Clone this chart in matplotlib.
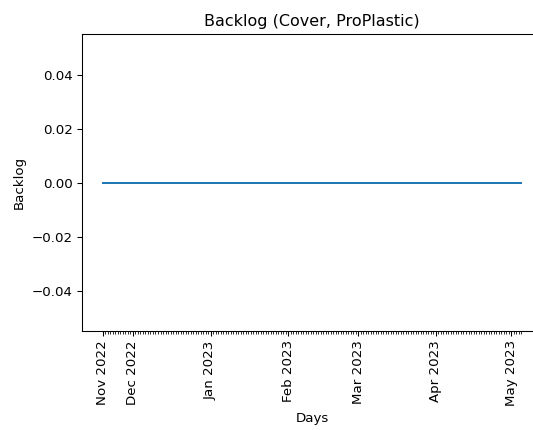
import pandas as pd
import matplotlib
matplotlib.use("Agg")
import matplotlib.pyplot as plt
import matplotlib.dates as mdates

# Daily backlog for the Cover product at ProPlastic
start_date = "2022-11-19"
end_date = "2023-05-05"
days = pd.date_range(start_date, end_date, freq="D")
backlog = [0] * len(days)

DPI = 96
W, H = 533, 430
fig = plt.figure(figsize=(W / DPI, H / DPI), dpi=DPI)
left, right, top, bottom = 82, 542, 34, 331
ax = fig.add_axes([left / W, 1 - bottom / H, (right - left) / W, (bottom - top) / H])
ax.plot(days, backlog, color="#1f77b4", linewidth=1.5)

# Major ticks: first day shown, then the first day of every following month;
# a minor tick on every day that has a value
month_starts = [d for d in days if d.day == 1]
major = [days[0]] + month_starts
ax.set_xticks(major)
ax.set_xticks(days, minor=True)
ax.xaxis.set_major_formatter(mdates.DateFormatter("%b %Y"))
plt.setp(ax.get_xticklabels(), rotation=90)

ax.set_title("Backlog (Cover, ProPlastic)")
ax.set_xlabel("Days")
ax.set_ylabel("Backlog")

fig.savefig("out.png", dpi=DPI)
